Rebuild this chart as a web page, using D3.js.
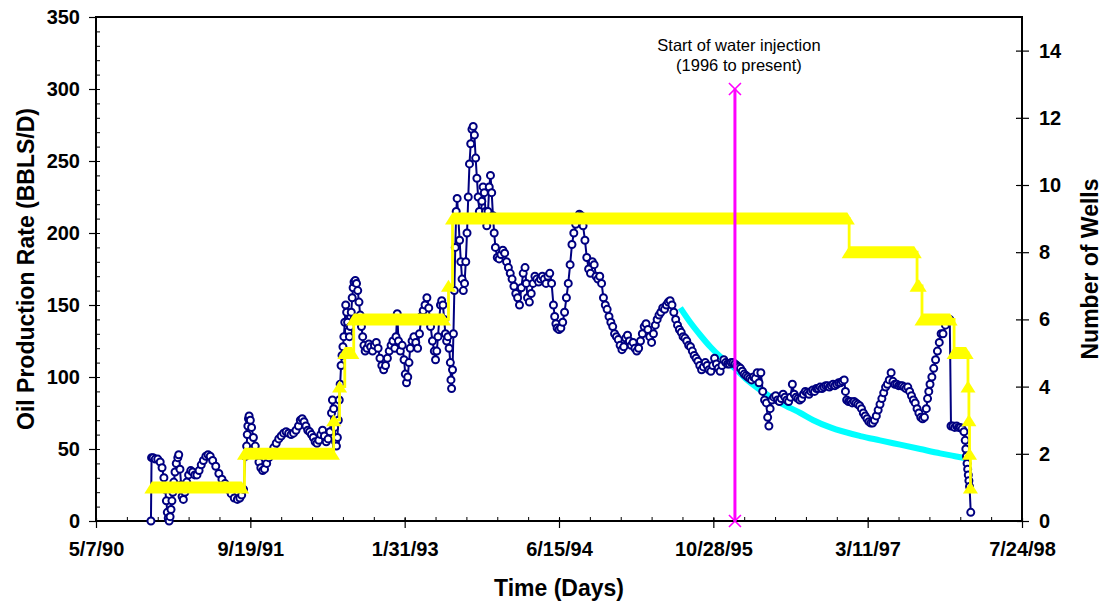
<!DOCTYPE html>
<html>
<head>
<meta charset="utf-8">
<script src="https://cdn.jsdelivr.net/npm/d3@7"></script>
<style>
  html, body { margin: 0; padding: 0; background: #fff; }
  svg { display: block; }
  text { font-family: "Liberation Sans", Arial, sans-serif; }
</style>
</head>
<body>
<svg id="chart" width="1104" height="605"></svg>
<script>
// Oil production rate: [days since 5/7/90, BBLS/D]
const oilRate = [
  [178,0],[180,44],[185,44],[192,43],[200,43],[208,41],[214,37],[220,30],[224,22],[228,14],
  [231,6],[234,2],[237,0],[240,3],[243,8],[246,14],[249,20],[252,27],[256,34],[260,40],
  [265,44],[268,46],[272,36],[276,25],[279,17],[283,15],[288,20],[294,27],[300,32],[307,35],
  [313,34],[320,32],[327,32],[334,35],[341,39],[348,42],[356,45],[363,46],[370,45],[378,42],
  [388,38],[398,33],[408,29],[418,26],[428,22],[438,19],[448,16],[458,15],[466,16],[472,18],
  [478,22],[484,45],[488,52],[490,60],[492,66],[494,71],[496,73],[500,70],[504,65],[510,58],
  [516,52],[522,46],[528,41],[534,37],[540,35],[546,36],[553,40],[560,44],[568,48],[576,51],
  [584,54],[592,57],[600,59],[608,61],[616,62],[624,61],[632,60],[640,61],[648,63],[656,66],
  [662,70],[668,71],[674,69],[680,66],[686,63],[692,62],[698,60],[704,58],[710,55],[716,54],
  [722,56],[728,60],[734,63],[740,59],[746,55],[752,57],[758,62],[763,75],[766,84],[770,78],
  [773,65],[776,55],[779,52],[782,58],[785,70],[788,84],[791,95],[794,108],[797,115],[800,121],
  [803,128],[806,138],[809,150],[812,145],[815,138],[818,132],[821,128],[824,135],[827,145],[830,155],
  [833,162],[836,166],[840,167],[844,165],[848,160],[852,152],[856,143],[860,135],[864,128],[868,122],
  [872,118],[878,120],[884,123],[890,121],[896,118],[902,122],[908,124],[914,120],[920,113],[926,108],
  [932,105],[938,108],[944,113],[950,118],[956,122],[962,125],[968,120],[972,128],[976,144],[980,125],
  [986,118],[992,122],[998,112],[1002,102],[1006,96],[1010,100],[1014,110],[1018,120],[1024,125],[1030,128],
  [1036,124],[1042,120],[1048,130],[1054,142],[1060,146],[1066,150],[1072,155],[1078,148],[1084,135],[1090,125],
  [1096,118],[1100,112],[1104,118],[1108,128],[1112,140],[1116,150],[1120,153],[1124,150],[1128,140],[1132,130],
  [1136,125],[1140,128],[1144,120],[1148,110],[1150,98],[1152,92],[1155,105],[1158,130],[1161,160],[1164,190],
  [1167,215],[1170,224],[1174,210],[1178,195],[1182,180],[1186,168],[1190,160],[1194,165],[1198,180],[1202,200],
  [1206,225],[1210,248],[1214,262],[1218,272],[1222,274],[1226,268],[1230,252],[1234,238],[1238,225],[1242,215],
  [1246,210],[1250,222],[1254,232],[1258,228],[1262,215],[1266,205],[1270,215],[1274,232],[1278,240],[1282,228],
  [1286,212],[1290,200],[1294,190],[1300,183],[1306,182],[1312,185],[1318,188],[1324,186],[1330,180],[1336,176],
  [1342,172],[1348,168],[1354,163],[1360,158],[1366,155],[1372,150],[1378,162],[1384,172],[1390,176],[1394,165],
  [1398,155],[1404,152],[1410,158],[1416,165],[1422,170],[1428,168],[1434,166],[1440,168],[1446,170],[1452,168],
  [1458,165],[1464,170],[1470,172],[1476,165],[1482,150],[1486,142],[1490,137],[1494,134],[1500,133],[1506,134],
  [1512,138],[1518,145],[1524,155],[1530,165],[1536,178],[1542,192],[1548,200],[1554,206],[1560,210],[1566,213],
  [1572,212],[1578,205],[1584,195],[1590,183],[1596,175],[1602,172],[1608,180],[1614,178],[1620,170],[1626,168],
  [1632,170],[1638,165],[1644,155],[1650,150],[1656,147],[1662,142],[1668,138],[1674,135],[1680,130],[1686,128],
  [1692,126],[1698,122],[1704,119],[1710,121],[1716,127],[1722,129],[1728,125],[1734,122],[1740,124],[1746,120],
  [1752,118],[1758,120],[1764,125],[1770,130],[1776,135],[1782,137],[1788,133],[1794,128],[1800,124],[1806,130],
  [1812,136],[1818,140],[1824,143],[1830,145],[1836,148],[1842,147],[1848,150],[1854,152],[1860,153],[1866,150],
  [1872,145],[1878,140],[1884,136],[1890,133],[1896,131],[1902,128],[1908,127],[1914,125],[1920,122],[1926,121],
  [1932,118],[1938,115],[1944,113],[1950,111],[1956,108],[1962,105],[1968,107],[1974,110],[1980,108],[1986,105],
  [1992,104],[1998,108],[2004,113],[2010,109],[2016,106],[2022,104],[2028,108],[2034,112],[2040,110],[2046,109],
  [2052,109],[2058,110],[2064,110],[2070,109],[2076,108],[2082,107],[2088,106],[2094,104],[2100,102],[2106,101],
  [2112,100],[2118,99],[2124,98],[2130,100],[2136,99],[2142,103],[2148,96],[2154,103],[2160,90],[2166,84],
  [2172,82],[2176,72],[2180,66],[2184,78],[2190,84],[2196,86],[2202,87],[2208,84],[2214,83],[2220,85],
  [2226,88],[2232,86],[2238,84],[2244,83],[2250,86],[2256,95],[2262,88],[2268,86],[2274,85],[2280,84],
  [2286,85],[2292,88],[2298,90],[2304,89],[2310,88],[2316,90],[2322,91],[2328,90],[2334,92],[2340,92],
  [2346,93],[2352,92],[2358,93],[2364,94],[2370,94],[2376,93],[2382,94],[2388,95],[2394,94],[2400,95],
  [2406,96],[2412,96],[2418,97],[2424,98],[2428,90],[2432,84],[2438,83],[2444,83],[2450,82],[2456,83],
  [2462,82],[2468,81],[2474,80],[2480,78],[2486,75],[2492,73],[2498,71],[2504,69],[2510,68],[2516,68],
  [2522,70],[2528,73],[2534,77],[2540,81],[2546,85],[2552,89],[2558,93],[2564,95],[2570,98],[2576,103],
  [2582,97],[2588,95],[2594,95],[2600,94],[2606,94],[2612,94],[2618,93],[2624,92],[2630,93],[2636,90],
  [2642,87],[2648,84],[2654,82],[2660,78],[2666,75],[2672,72],[2678,71],[2684,72],[2690,78],[2694,85],
  [2698,90],[2702,95],[2708,100],[2714,106],[2720,112],[2726,118],[2732,124],[2738,130],[2744,130],[2752,136],
  [2760,139],[2766,140],[2770,66],[2776,66],[2782,65],[2788,66],[2794,65],[2800,65],[2806,64],[2812,62],
  [2816,56],[2818,50],[2820,45],[2822,40],[2824,36],[2826,32],[2828,28],[2830,24],[2834,6]
];

// Decline curve fitted to the pre-injection trend: [days, BBLS/D]
const declineCurve = [
  [1893,148],[1925,138],[1958,129],[1990,121],[2023,114],[2065,107],[2104,99],[2152,91],
  [2217,82],[2282,75],[2324,70],[2379,65],[2476,59],[2540,56],[2605,53],[2670,50],[2735,47],
  [2783,45],[2832,43]
];

// Active well count runs: first day, last day, number of wells
const wellStart = [181, 481, 770, 789, 806, 835, 1142, 1155, 2440, 2660, 2676, 2780, 2825, 2828, 2830, 2833];
const wellEnd   = [472, 766, 770, 789, 829, 1126, 1142, 2434, 2651, 2667, 2767, 2819, 2825, 2828, 2830, 2833];
const wellCount = [1, 2, 3, 4, 5, 6, 7, 9, 8, 7, 6, 5, 4, 3, 2, 1];

// Water injection start marker
const injectionDay = 2070;
const injectionTop = 300;
const injectionLabel = ["Start of water injection", "(1996 to present)"];

// Axis definitions
const dayTicks = [0, 500, 1000, 1500, 2000, 2500, 3000];
const rateTicks = [0, 50, 100, 150, 200, 250, 300, 350];
const wellTicks = [0, 2, 4, 6, 8, 10, 12, 14];
const startDate = Date.UTC(1990, 4, 7);
const dateFmt = d3.utcFormat("%-m/%-d/%y");

const svg = d3.select("#chart");
const L = 96, R = 1022, T = 17, B = 521;

const x = d3.scaleLinear().domain([0, 3000]).range([L, R]);
const yL = d3.scaleLinear().domain([0, 350]).range([B, T]);
const yR = d3.scaleLinear().domain([0, 15]).range([B, T]);

const tickFont = 20, titleFont = 23;

// ---- axes ----
const axes = svg.append("g");

// bottom: minor ticks inside
axes.append("g").attr("transform", `translate(0,${B})`)
  .call(d3.axisBottom(x).tickValues(d3.range(0, 3001, 100)).tickSize(-4).tickSizeOuter(0).tickFormat(""))
  .call(g => g.select(".domain").remove())
  .selectAll("line").attr("stroke", "#000").attr("stroke-width", 1);

// bottom: major ticks across the axis line
const bx = axes.append("g").attr("transform", `translate(0,${B})`)
  .call(d3.axisBottom(x).tickValues(dayTicks).tickSizeOuter(0)
    .tickFormat(d => dateFmt(new Date(startDate + d * 864e5))));
bx.select(".domain").remove();
bx.selectAll(".tick line").attr("y1", -3).attr("y2", 7).attr("stroke", "#000").attr("stroke-width", 1.2);
bx.selectAll(".tick text").attr("y", 28).attr("dy", "0.36em")
  .attr("font-size", tickFont).attr("font-weight", "bold").attr("fill", "#000");

// left: minor ticks inside
axes.append("g").attr("transform", `translate(${L},0)`)
  .call(d3.axisLeft(yL).tickValues(d3.range(0, 351, 10)).tickSize(-4).tickSizeOuter(0).tickFormat(""))
  .call(g => g.select(".domain").remove())
  .selectAll("line").attr("stroke", "#000").attr("stroke-width", 1);

// left: major ticks outside
const lx = axes.append("g").attr("transform", `translate(${L},0)`)
  .call(d3.axisLeft(yL).tickValues(rateTicks).tickSizeOuter(0).tickSize(7));
lx.select(".domain").remove();
lx.selectAll(".tick line").attr("stroke", "#000").attr("stroke-width", 1.2);
lx.selectAll(".tick text").attr("x", -16)
  .attr("font-size", tickFont).attr("font-weight", "bold").attr("fill", "#000");

// right: major ticks across the axis line
const rx = axes.append("g").attr("transform", `translate(${R},0)`)
  .call(d3.axisRight(yR).tickValues(wellTicks).tickSizeOuter(0));
rx.select(".domain").remove();
rx.selectAll(".tick line").attr("x1", -6).attr("x2", 7).attr("stroke", "#000").attr("stroke-width", 1.2);
rx.selectAll(".tick text").attr("x", 17)
  .attr("font-size", tickFont).attr("font-weight", "bold").attr("fill", "#000");

// plot frame
axes.append("rect").attr("x", L).attr("y", T).attr("width", R - L).attr("height", B - T)
  .attr("fill", "none").attr("stroke", "#000").attr("stroke-width", 2);

// axis titles
svg.append("text").attr("x", (L + R) / 2).attr("y", 596).attr("text-anchor", "middle")
  .attr("font-size", titleFont).attr("font-weight", "bold").text("Time (Days)");
svg.append("text").attr("transform", `translate(34,${(T + B) / 2}) rotate(-90)`).attr("text-anchor", "middle")
  .attr("font-size", titleFont).attr("font-weight", "bold").text("Oil Production Rate (BBLS/D)");
svg.append("text").attr("transform", `translate(1098,${(T + B) / 2}) rotate(-90)`).attr("text-anchor", "middle")
  .attr("font-size", titleFont).attr("font-weight", "bold").text("Number of Wells");

// ---- data ----
const plot = svg.append("g");

// decline curve
plot.append("path").datum(declineCurve)
  .attr("fill", "none").attr("stroke", "#00FFFF").attr("stroke-width", 6)
  .attr("d", d3.line().x(d => x(d[0])).y(d => yL(d[1])).curve(d3.curveMonotoneX));

// oil rate line + circle markers
plot.append("path").datum(oilRate)
  .attr("fill", "none").attr("stroke", "#000080").attr("stroke-width", 2)
  .attr("d", d3.line().x(d => x(d[0])).y(d => yL(d[1])));
plot.append("g").selectAll("circle").data(oilRate).join("circle")
  .attr("cx", d => x(d[0])).attr("cy", d => yL(d[1])).attr("r", 3.5)
  .attr("fill", "#fff").attr("stroke", "#000080").attr("stroke-width", 2);

// well count step line
const wellPts = [];
wellCount.forEach((c, i) => { wellPts.push([wellStart[i], c]); wellPts.push([wellEnd[i], c]); });
plot.append("path").datum(wellPts)
  .attr("fill", "none").attr("stroke", "#FFFF00").attr("stroke-width", 2.8)
  .attr("d", d3.line().x(d => x(d[0])).y(d => yR(d[1])).curve(d3.curveStepAfter));

// well count triangle markers, merged into a band along each run
const tw = 7.5, th = 6;
plot.append("g").selectAll("path").data(wellCount.map((c, i) => ({ s: wellStart[i], e: wellEnd[i], c })))
  .join("path")
  .attr("fill", "#FFFF00")
  .attr("d", d => {
    const y = yR(d.c), x0 = x(d.s), x1 = x(d.e);
    return `M${x0},${y - th}L${x1},${y - th}L${x1 + tw},${y + th}L${x0 - tw},${y + th}Z`;
  });

// injection start line with cross markers
const ix = x(injectionDay);
plot.append("line").attr("x1", ix).attr("x2", ix).attr("y1", yL(0)).attr("y2", yL(injectionTop))
  .attr("stroke", "#FF00FF").attr("stroke-width", 3);
plot.append("g").selectAll("path").data([0, injectionTop]).join("path")
  .attr("fill", "none").attr("stroke", "#FF00FF").attr("stroke-width", 1.6)
  .attr("d", v => { const cy = yL(v), s = 6; return `M${ix - s},${cy - s}L${ix + s},${cy + s}M${ix - s},${cy + s}L${ix + s},${cy - s}`; });

svg.append("g").selectAll("text").data(injectionLabel).join("text")
  .attr("x", ix + 4).attr("y", (d, i) => 51 + i * 20).attr("text-anchor", "middle")
  .attr("font-size", 16.5).attr("fill", "#000").text(d => d);
</script>
</body>
</html>
